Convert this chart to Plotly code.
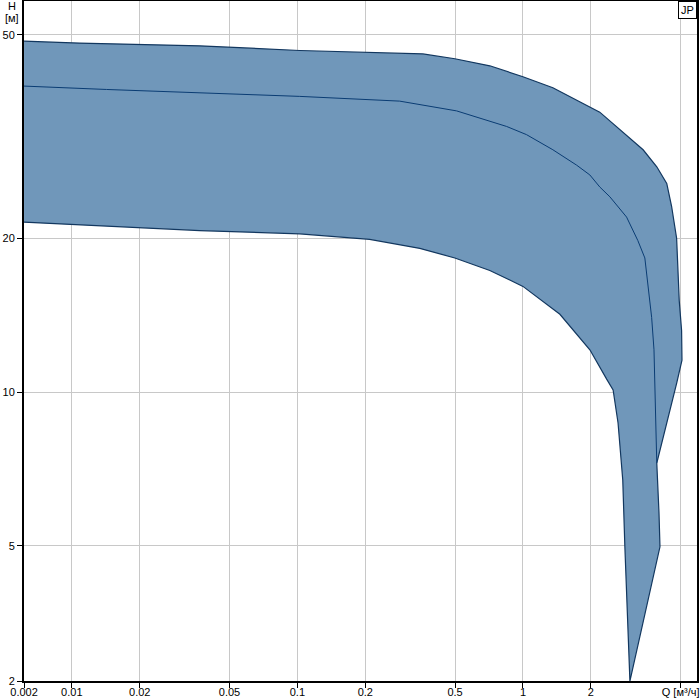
import plotly.graph_objects as go

# Upper boundary (max speed), left to right
q_upper = [0.00614, 0.0108, 0.0369, 0.1024, 0.36, 0.499, 0.713, 1.0, 1.357, 1.98, 2.19, 3.41, 3.92, 4.34, 4.56, 4.80, 4.93, 5.05, 5.07]
h_upper = [48.6, 48.2, 47.6, 46.6, 45.9, 44.9, 43.5, 41.4, 39.4, 36.2, 35.3, 29.8, 27.6, 25.6, 23.1, 20.0, 15.1, 13.2, 11.55]
# Right boundary, top to bottom
q_right = [4.80, 3.92, 4.01, 4.05, 2.98]
h_right = [10.4, 7.26, 5.80, 4.98, 2.72]
# Lower boundary (min speed), left to right
q_lower = [0.00614, 0.0369, 0.1024, 0.209, 0.349, 0.499, 0.713, 1.0, 1.458, 1.98, 2.35, 2.51, 2.64, 2.77, 2.83, 2.88, 2.98]
h_lower = [21.5, 20.7, 20.4, 19.9, 19.1, 18.3, 17.3, 16.1, 14.2, 12.1, 10.6, 10.1, 8.70, 6.73, 4.98, 3.98, 2.72]
# Middle curve
q_mid = [0.00614, 0.01426, 0.1024, 0.2024, 0.284, 0.508, 0.846, 1.037, 1.357, 1.73, 1.98, 2.19, 2.43, 2.88, 3.23, 3.47, 3.58, 3.72, 3.81, 3.85, 3.92]
h_mid = [39.7, 39.1, 37.9, 37.4, 37.1, 35.5, 33.1, 31.9, 29.8, 27.8, 26.6, 25.2, 24.1, 22.0, 19.8, 18.3, 16.35, 14.0, 12.1, 9.65, 7.26]

x_tickvals = [0.00614, 0.01, 0.02, 0.05, 0.1, 0.2, 0.5, 1, 2, 5]
x_ticktext = ["0.002", "0.01", "0.02", "0.05", "0.1", "0.2", "0.5", "1", "2", "Q [м³/ч]"]
y_tickvals = [2.72, 5, 10, 20, 50]
y_ticktext = ["2", "5", "10", "20", "50"]

poly_q = q_upper + q_right + q_lower[::-1]
poly_h = h_upper + h_right + h_lower[::-1]

fig = go.Figure()
fig.add_trace(go.Scatter(
    x=poly_q, y=poly_h, mode="lines", fill="toself",
    fillcolor="rgb(112,151,186)",
    line=dict(color="rgb(18,55,95)", width=1.2),
    hoverinfo="skip", showlegend=False,
))
fig.add_trace(go.Scatter(
    x=q_mid, y=h_mid, mode="lines",
    line=dict(color="rgb(10,60,115)", width=1),
    showlegend=False,
))

font = dict(family="Liberation Sans, Arial, sans-serif", size=11, color="black")

fig.update_layout(
    width=700, height=700,
    margin=dict(l=24, r=3, t=1, b=19),
    paper_bgcolor="white", plot_bgcolor="white",
    font=font,
    xaxis=dict(
        type="log", range=[-2.212, 0.7716], automargin=False,
        tickvals=x_tickvals, ticktext=x_ticktext,
        showgrid=True, gridcolor="rgb(200,200,200)", gridwidth=1,
        showline=True, linecolor="black", linewidth=2, mirror=True,
        ticks="outside", ticklen=5, tickcolor="black", tickwidth=1,
        ticklabelstandoff=-5,
        zeroline=False, tickfont=font,
    ),
    yaxis=dict(
        type="log", range=[0.4346, 1.7653], automargin=False,
        tickvals=y_tickvals, ticktext=y_ticktext,
        showgrid=True, gridcolor="rgb(200,200,200)", gridwidth=1,
        showline=True, linecolor="black", linewidth=2, mirror=True,
        ticks="outside", ticklen=5, tickcolor="black", tickwidth=1,
        zeroline=False, tickfont=font,
    ),
    annotations=[
        dict(text="H", xref="paper", yref="paper", x=-0.0178, y=0.9926,
             showarrow=False, font=font, xanchor="center", yanchor="middle"),
        dict(text="[м]", xref="paper", yref="paper", x=-0.0178, y=0.975,
             showarrow=False, font=font, xanchor="center", yanchor="middle"),
        dict(text="JP", xref="paper", yref="paper", x=1, y=1,
             showarrow=False, font=font, xanchor="right", yanchor="top",
             bordercolor="black", borderwidth=1, borderpad=2, bgcolor="white"),
    ],
)

fig.write_html("out.html",
               config={"displayModeBar": False},
               post_script="document.body.style.margin='0';document.body.style.padding='0';document.body.style.overflow='hidden';")
